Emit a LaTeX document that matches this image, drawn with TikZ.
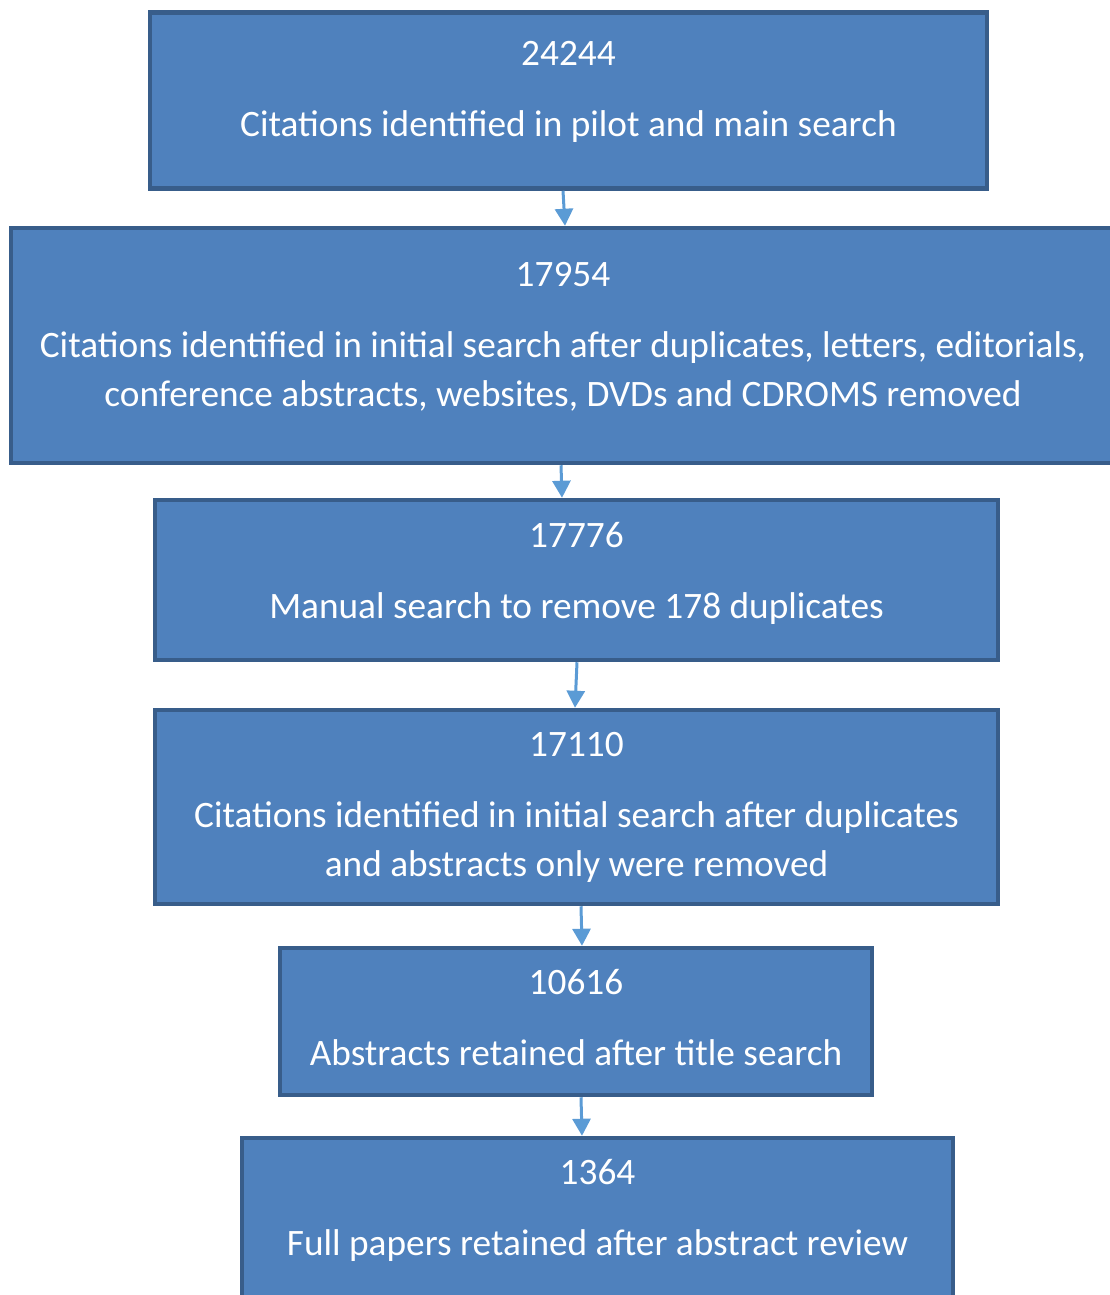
\documentclass[tikz,border=0pt]{standalone}
\usepackage{fontspec}
\setmainfont{Carlito}
\usetikzlibrary{arrows.meta, positioning}
\definecolor{boxfill}{HTML}{4F81BD}
\definecolor{boxedge}{HTML}{385D8A}
\definecolor{flowblue}{HTML}{5B9BD5}
% count on top, description below, lifted a little inside the box
\newcommand{\stagetext}[3][0pt]{\raisebox{#1}[\height][\depth]{\begin{tabular}{@{}c@{}}#2\\[22pt]#3\end{tabular}}}

\begin{document}
\begin{tikzpicture}[
  x=1pt, y=-1pt,
  stage/.style={draw=boxedge, fill=boxfill, line width=4.5pt, text=white, inner sep=0pt, font=\fontsize{37.3}{49}\selectfont},
  flow/.style={-{Triangle[width=18pt,length=17pt]}, line width=3pt, flowblue}
]
\useasboundingbox (0,0) rectangle (1109,1295);

\node[stage, minimum width=837pt, minimum height=176pt] (pilot) at (568.5,100.5)
  {\stagetext[9pt]{24244}{Citations identified in pilot and main search}};
\node[stage, minimum width=1104pt, minimum height=235pt] (initial) at (563,345.5)
  {\stagetext[9pt]{17954}{Citations identified in initial search after duplicates, letters, editorials,\\conference abstracts, websites, DVDs and CDROMS removed}};
\node[stage, minimum width=843pt, minimum height=160pt] (manual) at (576.5,580)
  {\stagetext[7pt]{17776}{Manual search to remove 178 duplicates}};
\node[stage, minimum width=843pt, minimum height=194pt] (nodup) at (576.5,807)
  {\stagetext{17110}{Citations identified in initial search after duplicates\\and abstracts only were removed}};
\node[stage, minimum width=592pt, minimum height=147pt] (title) at (576,1021.5)
  {\stagetext[1pt]{10616}{Abstracts retained after title search}};
\node[stage, minimum width=711pt, minimum height=168pt] (full) at (597.5,1222)
  {\stagetext[12pt]{1364}{Full papers retained after abstract review}};

% arrows between stages
\draw[flow] ([xshift=-5.5pt]pilot.south) -- ([xshift=2pt]initial.north);
\draw[flow] ([xshift=-2pt]initial.south) -- ([xshift=-14.5pt]manual.north);
\draw[flow] ([xshift=0.5pt]manual.south) -- ([xshift=-1.5pt]nodup.north);
\draw[flow] ([xshift=4.5pt]nodup.south) -- ([xshift=6pt]title.north);
\draw[flow] ([xshift=5pt]title.south) -- ([xshift=-15.5pt]full.north);
\end{tikzpicture}
\end{document}
